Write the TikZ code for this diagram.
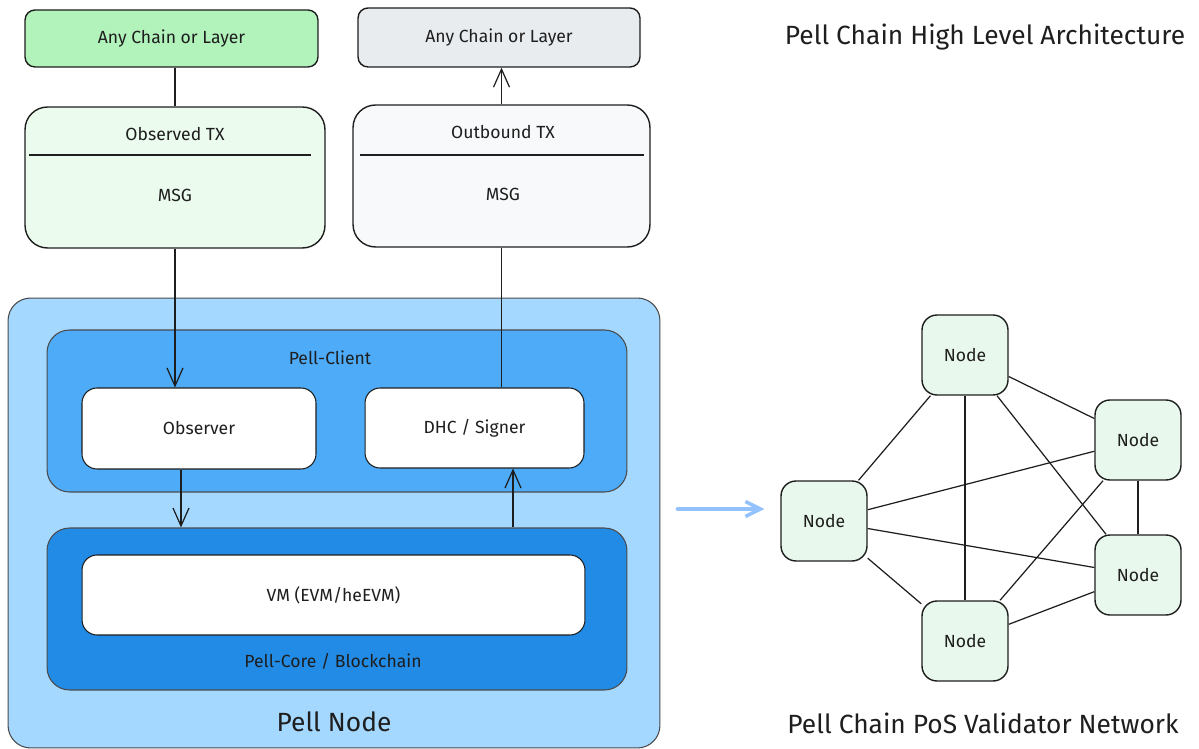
\documentclass[tikz,border=0pt]{standalone}
\usepackage{fontspec}
\setmainfont{Fira Sans}
\usepackage{xcolor}
\usepackage{tikz}
\usetikzlibrary{arrows.meta}
\definecolor{ink}{HTML}{1E1E1E}
\definecolor{chaingreen}{HTML}{B2F2BB}
\definecolor{chaingray}{HTML}{E9ECEF}
\definecolor{msggreen}{HTML}{EBFBEE}
\definecolor{msggray}{HTML}{F8F9FA}
\definecolor{nodeblue}{HTML}{A5D8FF}
\definecolor{clientblue}{HTML}{4DABF7}
\definecolor{coreblue}{HTML}{228BE6}
\definecolor{peergreen}{HTML}{E9F8EC}

\begin{document}
\begin{tikzpicture}[
  x=0.02cm, y=-0.02cm,
  font=\fontsize{10}{12}\selectfont, text=ink,
  box/.style={draw=ink, line width=0.8pt, rounded corners=0.2cm},
  msgbox/.style={draw=ink, line width=0.8pt, rounded corners=0.45cm},
  layer/.style={draw=ink!80, line width=0.6pt, rounded corners=0.45cm},
  inner/.style={draw=ink, line width=0.6pt, fill=white, rounded corners=0.3cm},
  peer/.style={draw=ink, line width=0.8pt, fill=peergreen, rounded corners=0.3cm,
               minimum width=1.72cm, minimum height=1.6cm},
  line/.style={draw=ink, line width=0.7pt},
  arrow/.style={-{Straight Barb[length=3.6mm,width=3.2mm]}, line width=0.7pt, draw=ink},
  link/.style={draw=ink, line width=0.7pt}
]
  \useasboundingbox (0,0) rectangle (1199,749);

  % source and destination chains
  \node[box, fill=chaingreen, minimum width=5.86cm, minimum height=1.14cm] (srcchain) at (171.5,38.5) {Any Chain or Layer};
  \node[box, fill=chaingray, minimum width=5.64cm, minimum height=1.18cm] (dstchain) at (499,37.5) {Any Chain or Layer};

  % messages
  \node[msgbox, fill=msggreen, minimum width=6cm, minimum height=2.82cm] (observed) at (175,177.5) {};
  \node (observedtitle) at (175,134) {Observed TX};
  \node (observedmsg) at (175,195) {MSG};
  \draw[line, shorten <=0.1cm, shorten >=0.3cm] (observed.west |- 0,155) -- (observed.east |- 0,155);
  \node[msgbox, fill=msggray, minimum width=5.94cm, minimum height=2.84cm] (outbound) at (501.5,176) {};
  \node (outboundtitle) at (503,132) {Outbound TX};
  \node (outboundmsg) at (503,194) {MSG};
  \draw[line, shorten <=0.15cm, shorten >=0.14cm] (outbound.west |- 0,155) -- (outbound.east |- 0,155);

  % pell node
  \node[layer, fill=nodeblue, minimum width=13.04cm, minimum height=9cm] (pellnode) at (334,523) {};
  \node (pellnodelabel) at (334,722) {\fontsize{15}{18}\selectfont Pell Node};
  \node[layer, fill=clientblue, minimum width=11.6cm, minimum height=3.24cm] (client) at (337,411) {};
  \node (clientlabel) at (330,358) {Pell-Client};
  \node[inner, minimum width=4.68cm, minimum height=1.62cm] (observer) at (199,428.5) {Observer};
  \node[inner, minimum width=4.38cm, minimum height=1.6cm] (signer) at (474.5,428) {DHC / Signer};
  \node[layer, fill=coreblue, minimum width=11.6cm, minimum height=3.24cm] (core) at (337,609) {};
  \node (corelabel) at (333,661) {Pell-Core / Blockchain};
  \node[inner, minimum width=10.06cm, minimum height=1.6cm] (vm) at (333.5,595) {VM (EVM/heEVM)};

  \draw[line] (srcchain.south -| observed.north) -- (observed.north);
  \draw[arrow] (observed.south) -- (observed.south |- observer.north);
  \draw[line] (outbound.south) -- (outbound.south |- signer.north);
  \draw[arrow] (outbound.north) -- (outbound.north |- dstchain.south);
  \draw[arrow] ([xshift=-0.36cm]observer.south) -- ([xshift=-0.36cm]observer.south |- core.north);
  \draw[arrow] ([xshift=0.77cm]signer.south |- core.north) -- ([xshift=0.77cm]signer.south);

  % validator network
  \node (archtitle) at (985,37) {\fontsize{15}{18}\selectfont Pell Chain High Level Architecture};
  \node[peer] (peertop) at (965,355) {Node};
  \node[peer] (peerright) at (1138,440) {Node};
  \node[peer] (peerleft) at (824,521) {Node};
  \node[peer] (peerlow) at (1138,575) {Node};
  \node[peer] (peerbottom) at (965,641) {Node};
  \foreach \a/\b in {peertop/peerright, peertop/peerleft, peertop/peerbottom, peertop/peerlow,
                     peerleft/peerright, peerleft/peerlow, peerleft/peerbottom,
                     peerbottom/peerright, peerbottom/peerlow, peerright/peerlow}
    \draw[link] (\a) -- (\b);
  \node (nettitle) at (983,723) {\fontsize{15}{18}\selectfont Pell Chain PoS Validator Network};

  \draw[-{Straight Barb[length=3mm,width=3mm]}, draw=nodeblue!90!blue, line width=2pt, line cap=round]
    ([xshift=0.34cm,yshift=0.24cm]pellnode.east |- peerleft.west) -- ([xshift=-0.32cm,yshift=0.24cm]peerleft.west);
\end{tikzpicture}
\end{document}
